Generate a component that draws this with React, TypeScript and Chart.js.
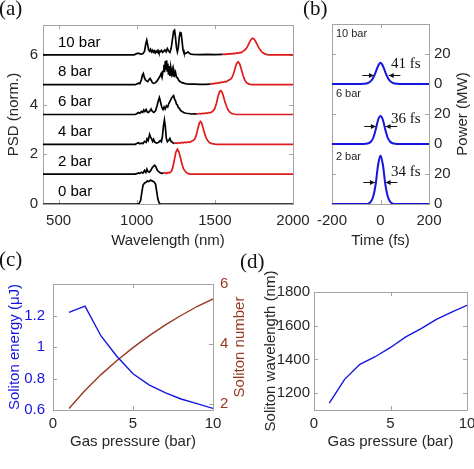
import React, { useEffect, useRef } from "react";
import { Chart, registerables } from "chart.js";

Chart.register(...registerables);

const SANS = "'Liberation Sans', Arial, Helvetica, sans-serif";
const SERIF = "'Liberation Serif', 'Times New Roman', serif";
const TXT = "#262626";
const BOX = "#a3a3a3";
const BLACK = "#000000";
const RED = "#e01b1b";
const BLUE = "#1515e0";
const BROWN = "#993822";

// ---------- (a) spectra ----------
const WL_TICKS = [500, 1000, 1500, 2000];
const PSD_TICKS = [0, 2, 4, 6];
const SPEC_OFFSETS = [0, 1.2, 2.4, 3.6, 4.8, 6.0];
const SPEC_LABELS = ["0 bar", "2 bar", "4 bar", "6 bar", "8 bar", "10 bar"];

const BAR0_BLACK = [[400,0],[1000,0],[1015,0.02],[1025,0.15],[1032,0.45],[1040,0.75],[1050,0.85],[1060,0.87],[1068,0.93],[1075,0.9],[1082,0.92],[1090,0.96],[1098,0.93],[1105,0.91],[1112,0.88],[1120,0.8],[1128,0.5],[1135,0.2],[1143,0.05],[1150,0],[2000,0]];

const BAR2_BLACK = [[400,0],[990,0],[1000,0.02],[1010,0.05],[1020,0.03],[1030,0.08],[1040,0.04],[1050,0.15],[1058,0.07],[1065,0.2],[1072,0.1],[1080,0.08],[1090,0.15],[1098,0.25],[1108,0.32],[1115,0.36],[1122,0.3],[1130,0.18],[1140,0.1],[1150,0.06],[1160,0.03],[1170,0.04]];
const BAR2_RED = [[1170,0.04],[1180,0.06],[1190,0.03],[1200,0.07],[1210,0.05],[1220,0.1],[1230,0.25],[1240,0.55],[1250,0.88],[1260,1.0],[1270,0.9],[1280,0.65],[1290,0.4],[1300,0.2],[1315,0.08],[1330,0.02],[1345,0],[2000,0]];

const BAR4_BLACK = [[400,0],[990,0],[1000,0.03],[1010,0.06],[1020,0.02],[1030,0.05],[1040,0.03],[1050,0.12],[1060,0.08],[1066,0.22],[1073,0.15],[1082,0.4],[1088,0.3],[1095,0.22],[1102,0.12],[1108,0.2],[1116,0.08],[1128,0.05],[1140,0.08],[1150,0.15],[1158,0.1],[1165,0.35],[1171,0.75],[1177,0.98],[1183,0.7],[1189,0.25],[1196,0.1],[1203,0.15],[1212,0.24],[1219,0.12],[1226,0.1],[1233,0.05],[1240,0.03]];
const BAR4_RED = [[1240,0.03],[1250,0.06],[1260,0.04],[1270,0.07],[1280,0.05],[1290,0.08],[1300,0.06],[1310,0.09],[1320,0.07],[1330,0.1],[1340,0.08],[1350,0.12],[1360,0.15],[1370,0.2],[1380,0.35],[1390,0.6],[1400,0.85],[1408,0.92],[1416,0.85],[1425,0.65],[1435,0.42],[1445,0.25],[1455,0.14],[1465,0.07],[1480,0.03],[1500,0.01],[1520,0],[2000,0]];

const BAR6_BLACK = [[400,0],[990,0],[1000,0.03],[1010,0.08],[1020,0.05],[1030,0.12],[1038,0.08],[1045,0.18],[1052,0.12],[1060,0.2],[1068,0.1],[1075,0.08],[1085,0.15],[1092,0.22],[1100,0.12],[1110,0.08],[1120,0.15],[1130,0.35],[1138,0.55],[1145,0.68],[1152,0.5],[1160,0.3],[1168,0.2],[1175,0.3],[1182,0.22],[1190,0.35],[1198,0.3],[1206,0.45],[1214,0.55],[1222,0.65],[1230,0.72],[1236,0.76],[1242,0.62],[1248,0.55],[1254,0.42],[1260,0.38],[1266,0.28],[1272,0.25],[1280,0.16],[1290,0.12],[1300,0.08],[1315,0.05],[1330,0.04],[1350,0.02],[1370,0.03],[1385,0.02]];
const BAR6_RED = [[1385,0.02],[1400,0.04],[1410,0.03],[1420,0.05],[1430,0.04],[1440,0.06],[1450,0.05],[1460,0.08],[1470,0.07],[1480,0.1],[1490,0.15],[1500,0.25],[1510,0.45],[1520,0.72],[1530,0.92],[1538,0.96],[1546,0.9],[1555,0.72],[1565,0.5],[1575,0.32],[1585,0.18],[1595,0.1],[1605,0.05],[1620,0.02],[1640,0],[2000,0]];

const BAR8_BLACK = [[400,0],[990,0],[1000,0.03],[1010,0.06],[1020,0.04],[1030,0.2],[1036,0.38],[1042,0.45],[1048,0.3],[1055,0.2],[1062,0.15],[1070,0.12],[1078,0.2],[1085,0.25],[1092,0.18],[1100,0.08],[1110,0.05],[1120,0.08],[1130,0.15],[1140,0.25],[1150,0.35],[1156,0.45],[1162,0.3],[1168,0.55],[1174,0.8],[1178,0.5],[1183,0.95],[1187,0.6],[1191,0.98],[1195,0.55],[1199,0.85],[1203,0.4],[1208,0.75],[1212,0.35],[1217,0.7],[1222,0.45],[1227,0.6],[1232,0.35],[1238,0.55],[1243,0.4],[1248,0.5],[1254,0.3],[1260,0.28],[1268,0.18],[1278,0.12],[1290,0.08],[1305,0.05],[1320,0.03],[1340,0.02],[1370,0.02],[1400,0.01],[1440,0.01],[1470,0.02]];
const BAR8_RED = [[1470,0.02],[1480,0.04],[1490,0.03],[1500,0.06],[1510,0.05],[1520,0.08],[1530,0.07],[1540,0.1],[1550,0.09],[1560,0.12],[1570,0.11],[1580,0.15],[1590,0.19],[1600,0.22],[1610,0.3],[1620,0.45],[1630,0.68],[1640,0.86],[1650,0.92],[1660,0.82],[1670,0.6],[1680,0.38],[1690,0.2],[1700,0.1],[1712,0.04],[1725,0.01],[1740,0],[2000,0]];

const BAR10_BLACK = [[400,0],[980,0],[990,0.02],[1000,0.05],[1010,0.07],[1020,0.04],[1030,0.03],[1040,0.05],[1050,0.15],[1058,0.45],[1064,0.59],[1070,0.4],[1076,0.2],[1082,0.15],[1088,0.22],[1094,0.12],[1100,0.18],[1106,0.1],[1112,0.16],[1118,0.08],[1124,0.15],[1130,0.1],[1136,0.18],[1142,0.08],[1150,0.12],[1158,0.18],[1165,0.1],[1172,0.14],[1180,0.2],[1188,0.12],[1196,0.25],[1204,0.15],[1212,0.1],[1220,0.25],[1228,0.6],[1236,0.95],[1242,0.99],[1248,0.7],[1254,0.3],[1260,0.12],[1266,0.3],[1272,0.7],[1278,0.9],[1284,0.88],[1290,0.55],[1296,0.2],[1302,0.08],[1310,0.05],[1320,0.08],[1328,0.12],[1336,0.07],[1345,0.03],[1360,0.02],[1400,0.01],[1450,0.02],[1500,0.01],[1550,0.02]];
const BAR10_RED = [[1550,0.02],[1560,0.03],[1570,0.02],[1580,0.04],[1590,0.03],[1600,0.05],[1610,0.04],[1620,0.06],[1630,0.05],[1640,0.08],[1650,0.06],[1660,0.1],[1670,0.09],[1680,0.15],[1690,0.18],[1700,0.25],[1710,0.35],[1720,0.48],[1730,0.6],[1740,0.67],[1750,0.64],[1760,0.55],[1770,0.42],[1780,0.3],[1790,0.2],[1800,0.12],[1810,0.07],[1820,0.04],[1835,0.01],[1850,0],[2000,0]];

const SPEC_BLACK = [BAR0_BLACK, BAR2_BLACK, BAR4_BLACK, BAR6_BLACK, BAR8_BLACK, BAR10_BLACK];
const SPEC_RED = [[], BAR2_RED, BAR4_RED, BAR6_RED, BAR8_RED, BAR10_RED];

// ---------- (b) pulses ----------
const TIME_TICKS = [-200, 0, 200];
const POWER_TICKS = [0, 20, 40, 60, 80, 100];
const PULSE_OFFSETS = [0, 40, 80];
const PULSE_LABELS = ["2 bar", "6 bar", "10 bar"];
const PULSE_FWHM = ["34 fs", "36 fs", "41 fs"];
const PULSE_2BAR = [[-200,0],[-60,0],[-50,0.3],[-40,1.5],[-30,5],[-20,13],[-10,26],[0,32.3],[10,26],[20,13],[30,5],[40,1.5],[50,0.3],[60,0],[200,0]];
const PULSE_6BAR = [[-200,0],[-70,0],[-60,0.1],[-50,0.5],[-40,1.5],[-30,4],[-20,9.5],[-10,16],[0,18.6],[10,16],[20,9.5],[30,4],[40,1.5],[50,0.5],[60,0.1],[70,0],[200,0]];
const PULSE_10BAR = [[-200,0],[-80,0],[-70,0.1],[-60,0.3],[-50,0.8],[-40,1.9],[-30,4.2],[-20,7.8],[-10,12],[0,14.1],[10,12],[20,7.8],[30,4.2],[40,1.9],[50,0.8],[60,0.3],[70,0.1],[80,0],[200,0]];
const PULSES = [PULSE_2BAR, PULSE_6BAR, PULSE_10BAR];

// ---------- (c) & (d) ----------
const PRESSURE = [1, 2, 3, 4, 5, 6, 7, 8, 9, 10];
const SOLITON_ENERGY = [1.22, 1.26, 1.07, 0.94, 0.83, 0.76, 0.71, 0.67, 0.64, 0.61];
const SOLITON_NUMBER = [1.85, 2.45, 2.98, 3.45, 3.88, 4.27, 4.63, 4.95, 5.25, 5.5];
const SOLITON_WAVELENGTH = [1141, 1282, 1371, 1416, 1471, 1534, 1583, 1638, 1681, 1721];
const P_TICKS = [0, 5, 10];
const ENERGY_TICKS = [0.6, 0.8, 1, 1.2];
const NUMBER_TICKS = [2, 4, 6];
const WAVE_TICKS = [1200, 1400, 1600, 1800];

// ---------- helpers ----------
const fmt = (v: any) => String(Math.round(Number(v) * 100) / 100);

function axis(o: any) {
  const horizontal = !!o.horizontal;
  return {
    type: "linear",
    position: o.position,
    min: o.min,
    max: o.max,
    grid: { display: false, drawTicks: false },
    border: { display: false },
    ticks: {
      font: { family: SANS, size: 15 },
      color: o.color || TXT,
      padding: o.tickPad,
      autoSkip: false,
      maxRotation: 0,
      minRotation: 0,
      callback: o.fmt || fmt,
    },
    title: o.title
      ? {
          display: true,
          text: o.title,
          color: o.color || TXT,
          font: { family: SANS, size: 15 },
          padding: horizontal ? { top: 0, bottom: o.titlePad } : { top: o.titlePad, bottom: 0 },
        }
      : { display: false },
    afterBuildTicks: (s: any) => {
      s.ticks = o.ticks.map((value: number) => ({ value }));
    },
    afterFit: (s: any) => {
      if (horizontal) s.height = o.size;
      else s.width = o.size;
      s.paddingLeft = 0;
      s.paddingRight = 0;
      s.paddingTop = 0;
      s.paddingBottom = 0;
    },
  };
}

const boxPlugin = {
  id: "mbox",
  beforeDatasetsDraw(chart: any, _a: any, opts: any) {
    const { ctx, chartArea } = chart;
    const left = Math.round(chartArea.left);
    const right = Math.round(chartArea.right);
    const top = Math.round(chartArea.top);
    const bottom = Math.round(chartArea.bottom);
    ctx.save();
    ctx.strokeStyle = BOX;
    ctx.lineWidth = 1;
    ctx.strokeRect(left + 0.5, top + 0.5, right - left, bottom - top);
    const L = 4;
    Object.values(chart.scales).forEach((s: any) => {
      ctx.beginPath();
      s.ticks.forEach((t: any) => {
        const p = Math.round(s.getPixelForValue(t.value)) + 0.5;
        if (s.isHorizontal()) {
          ctx.moveTo(p, bottom);
          ctx.lineTo(p, bottom - L);
          ctx.moveTo(p, top);
          ctx.lineTo(p, top + L);
        } else {
          const both = opts && opts.mirrorY;
          if (both || s.position === "left") {
            ctx.moveTo(left, p);
            ctx.lineTo(left + L, p);
          }
          if (both || s.position === "right") {
            ctx.moveTo(right, p);
            ctx.lineTo(right - L, p);
          }
        }
      });
      ctx.stroke();
    });
    ctx.restore();
  },
};

// right-side axis title reading bottom-to-top (as in the reference)
function rightTitle(text: string, color: string, fromRight: number) {
  return {
    id: "rtitle",
    afterDraw(chart: any) {
      const { ctx, chartArea, width } = chart;
      ctx.save();
      ctx.translate(width - fromRight, (chartArea.top + chartArea.bottom) / 2);
      ctx.rotate(-Math.PI / 2);
      ctx.font = `15px ${SANS}`;
      ctx.fillStyle = color;
      ctx.textAlign = "center";
      ctx.textBaseline = "middle";
      ctx.fillText(text, 0, 0);
      ctx.restore();
    },
  };
}

function baseOptions(padding: any) {
  return {
    responsive: false,
    maintainAspectRatio: false,
    animation: false,
    layout: { padding },
    plugins: { legend: { display: false }, tooltip: { enabled: false }, mbox: { mirrorY: true } },
    elements: { point: { radius: 0 } },
  };
}

const toXY = (pairs: number[][], off: number) => pairs.map(([x, y]) => ({ x, y: y + off }));

// ---------- panel configs ----------
function makeA() {
  const datasets: any[] = [];
  SPEC_BLACK.forEach((p, i) =>
    datasets.push({ data: toXY(p, SPEC_OFFSETS[i]), borderColor: BLACK, borderWidth: 1.7, pointRadius: 0, fill: false })
  );
  SPEC_RED.forEach((p, i) => {
    if (p.length)
      datasets.push({ data: toXY(p, SPEC_OFFSETS[i]), borderColor: RED, borderWidth: 1.7, pointRadius: 0, fill: false });
  });
  const labels = {
    id: "alabels",
    afterDatasetsDraw(chart: any) {
      const { ctx, scales } = chart;
      ctx.save();
      ctx.font = `15px ${SANS}`;
      ctx.fillStyle = BLACK;
      ctx.textAlign = "left";
      ctx.textBaseline = "middle";
      SPEC_LABELS.forEach((t, i) => {
        ctx.fillText(t, scales.x.getPixelForValue(496), scales.y.getPixelForValue(SPEC_OFFSETS[i] + 0.5));
      });
      ctx.restore();
    },
  };
  return {
    type: "line",
    data: { datasets },
    options: {
      ...baseOptions({ left: 0, top: 25, right: 27, bottom: 0 }),
      scales: {
        x: axis({ horizontal: true, position: "bottom", min: 400, max: 2000, ticks: WL_TICKS, size: 46, tickPad: 8, title: "Wavelength (nm)", titlePad: 0 }),
        y: axis({ position: "left", min: 0, max: 7.2, ticks: PSD_TICKS, size: 43, tickPad: 5, title: "PSD (norm.)", titlePad: 5 }),
      },
    },
    plugins: [boxPlugin, labels],
  };
}

function arrow(ctx: any, x0: number, x1: number, y: number) {
  ctx.beginPath();
  ctx.moveTo(x0, y);
  ctx.lineTo(x1, y);
  ctx.stroke();
  const d = x1 > x0 ? 1 : -1;
  ctx.beginPath();
  ctx.moveTo(x1, y);
  ctx.lineTo(x1 - d * 5, y - 2.5);
  ctx.lineTo(x1 - d * 5, y + 2.5);
  ctx.closePath();
  ctx.fill();
}

function makeB() {
  const datasets = PULSES.map((p, i) => ({
    data: toXY(p, PULSE_OFFSETS[i]),
    borderColor: BLUE,
    borderWidth: 2,
    pointRadius: 0,
    fill: false,
    cubicInterpolationMode: "monotone",
  }));
  const arrowLevel = [15, 12, 6];
  const leftTip = [-23, -19, -27];
  const rightTip = [21, 21, 34];
  const textY = [21, 16.3, 13.4];
  const labelY = [31.6, 33.6, 33.6];
  const ann = {
    id: "bann",
    afterDatasetsDraw(chart: any) {
      const { ctx, scales } = chart;
      const X = (v: number) => scales.x.getPixelForValue(v);
      const Y = (v: number) => scales.y.getPixelForValue(v);
      ctx.save();
      ctx.strokeStyle = "#111";
      ctx.fillStyle = "#111";
      ctx.lineWidth = 1;
      PULSE_OFFSETS.forEach((off, i) => {
        const y = Math.round(Y(off + arrowLevel[i])) + 0.5;
        arrow(ctx, X(leftTip[i] - 48), X(leftTip[i]), y);
        arrow(ctx, X(rightTip[i] + 48), X(rightTip[i]), y);
        ctx.font = `15px ${SERIF}`;
        ctx.textAlign = "left";
        ctx.textBaseline = "middle";
        ctx.fillText(PULSE_FWHM[i], X(43), Y(off + textY[i]));
        ctx.font = `11px ${SANS}`;
        ctx.fillStyle = TXT;
        ctx.fillText(PULSE_LABELS[i], X(-184), Y(off + labelY[i]));
        ctx.fillStyle = "#111";
      });
      ctx.restore();
    },
  };
  const yAxis: any = axis({ position: "right", min: 0, max: 120, ticks: POWER_TICKS, size: 45, tickPad: 5, fmt: (v: any) => String(Number(v) % 40) });
  return {
    type: "line",
    data: { datasets },
    options: {
      ...baseOptions({ left: 32, top: 24, right: 0, bottom: 0 }),
      scales: {
        x: axis({ horizontal: true, position: "bottom", min: -200, max: 200, ticks: TIME_TICKS, size: 46, tickPad: 8, title: "Time (fs)", titlePad: 0 }),
        y: yAxis,
      },
    },
    plugins: [boxPlugin, ann, rightTitle("Power (MW)", TXT, 11)],
  };
}

function makeC() {
  return {
    type: "line",
    data: {
      datasets: [
        { data: PRESSURE.map((x, i) => ({ x, y: SOLITON_ENERGY[i] })), yAxisID: "y", borderColor: BLUE, borderWidth: 1.4, pointRadius: 0, fill: false },
        { data: PRESSURE.map((x, i) => ({ x, y: SOLITON_NUMBER[i] })), yAxisID: "y1", borderColor: BROWN, borderWidth: 1.4, pointRadius: 0, fill: false },
      ],
    },
    options: {
      ...baseOptions({ left: 0, top: 34, right: 0, bottom: 0 }),
      plugins: { legend: { display: false }, tooltip: { enabled: false }, mbox: { mirrorY: false } },
      scales: {
        x: axis({ horizontal: true, position: "bottom", min: 0, max: 10, ticks: P_TICKS, size: 45, tickPad: 5, title: "Gas pressure (bar)", titlePad: 4 }),
        y: axis({ position: "left", min: 0.6, max: 1.4, ticks: ENERGY_TICKS, size: 53, tickPad: 8, title: "Soliton energy (μJ)", titlePad: 6, color: BLUE }),
        y1: axis({ position: "right", min: 1.8, max: 6, ticks: NUMBER_TICKS, size: 39, tickPad: 7, color: BROWN }),
      },
    },
    plugins: [boxPlugin, rightTitle("Soliton number", BROWN, 12)],
  };
}

function makeD() {
  return {
    type: "line",
    data: {
      datasets: [
        { data: PRESSURE.map((x, i) => ({ x, y: SOLITON_WAVELENGTH[i] })), borderColor: BLUE, borderWidth: 1.4, pointRadius: 0, fill: false },
      ],
    },
    options: {
      ...baseOptions({ left: 0, top: 42, right: 7, bottom: 0 }),
      scales: {
        x: axis({ horizontal: true, position: "bottom", min: 0, max: 10, ticks: P_TICKS, size: 45, tickPad: 5, title: "Gas pressure (bar)", titlePad: 4 }),
        y: axis({ position: "left", min: 1100, max: 1800, ticks: WAVE_TICKS, size: 59, tickPad: 4, title: "Soliton wavelength (nm)", titlePad: 7 }),
      },
    },
    plugins: [boxPlugin],
  };
}

function Panel({ left, top, width, height, make }: any) {
  const ref = useRef<HTMLCanvasElement>(null);
  useEffect(() => {
    const chart = new Chart(ref.current as HTMLCanvasElement, make());
    return () => chart.destroy();
  }, []);
  return (
    <canvas
      ref={ref}
      width={width}
      height={height}
      style={{ position: "absolute", left, top, width, height }}
    />
  );
}

const letterStyle = (left: number, top: number): any => ({
  position: "absolute",
  left,
  top,
  fontFamily: SERIF,
  fontSize: 21,
  lineHeight: "21px",
  color: "#111",
});

export default function App() {
  return (
    <div style={{ position: "fixed", left: 0, top: 0, width: 474, height: 469, background: "#fff", overflow: "hidden" }}>
      <Panel left={0} top={0} width={320} height={250} make={makeA} />
      <Panel left={300} top={0} width={174} height={250} make={makeB} />
      <Panel left={0} top={250} width={252} height={205} make={makeC} />
      <Panel left={255} top={250} width={219} height={205} make={makeD} />
      <span style={letterStyle(-1, -2)}>(a)</span>
      <span style={letterStyle(303, -2)}>(b)</span>
      <span style={letterStyle(-1, 249)}>(c)</span>
      <span style={letterStyle(240, 251)}>(d)</span>
    </div>
  );
}
